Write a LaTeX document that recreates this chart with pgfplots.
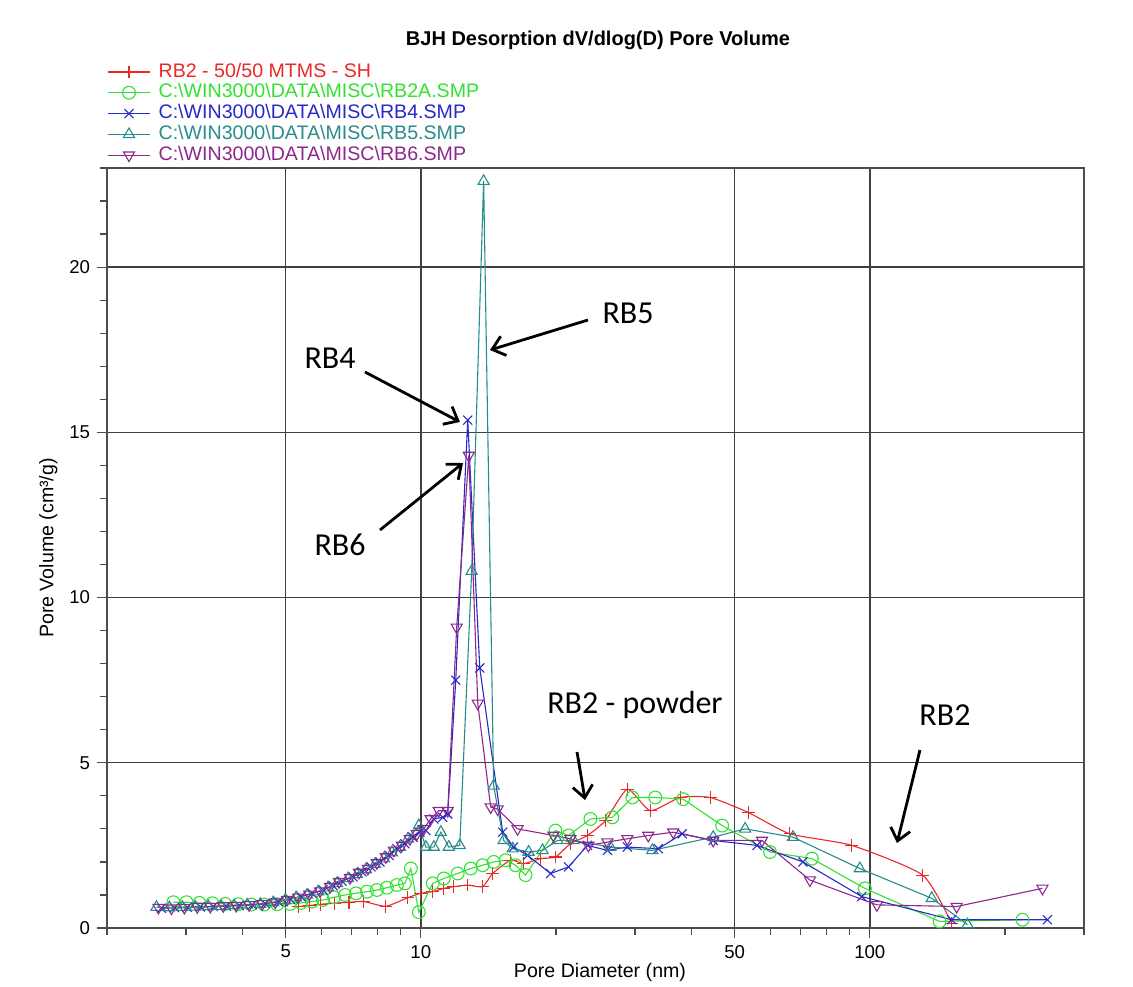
\documentclass[border=0pt]{standalone}
\usepackage{fontspec}
\setmainfont{Liberation Sans}
\newfontfamily\annfont{Carlito}
\usepackage{pgfplots}
\pgfplotsset{compat=1.18}
\usetikzlibrary{arrows.meta}
\definecolor{rbred}{RGB}{235,40,40}
\definecolor{rbgreen}{RGB}{50,225,50}
\definecolor{rbblue}{RGB}{40,40,200}
\definecolor{rbteal}{RGB}{40,140,140}
\definecolor{rbpurple}{RGB}{140,40,140}
\begin{document}
\begin{tikzpicture}
\path[use as bounding box] (-53.5pt,-29pt) rectangle (513pt,464pt);
\begin{axis}[
  scale only axis, width=488.5pt, height=380pt,
  xmode=log, xmin=2, xmax=300, ymin=0, ymax=23,
  xtick={5,10,50,100}, xticklabels={5,10,50,100},
  minor xtick={2,3,4,6,7,8,9,20,30,40,60,70,80,90,200,300},
  ytick={0,5,10,15,20},
  minor ytick={1,2,3,4,6,7,8,9,11,12,13,14,16,17,18,19,21,22,23},
  tick pos=left, tick align=outside,
  major tick length=5pt, minor tick length=3.5pt,
  grid=major, major grid style={black!75, line width=0.7pt},
  axis line style={black!70, line width=0.9pt},
  every tick/.style={black!70, line width=0.6pt},
  tick label style={font=\fontsize{9.3}{10}\selectfont},
  /pgf/number format/assume math mode=true,
  xlabel={Pore Diameter (nm)}, ylabel={Pore Volume (cm³/g)},
  label style={font=\fontsize{9.8}{11}\selectfont},
  xlabel style={at={(axis description cs:0.5046,-0.058)}, anchor=center},
  ylabel style={at={(axis description cs:-0.060,0.5)}, anchor=center},
  every axis title shift=0pt,
  title={BJH Desorption dV/dlog(D) Pore Volume},
  title style={at={(axis description cs:0.5026,1.168)}, anchor=center, font=\bfseries\fontsize{10}{11}\selectfont},
  legend style={at={(axis description cs:0.0,1.139)}, anchor=north west, draw=none, fill=none,
    font=\fontsize{9.8}{10.25}\selectfont, inner sep=0pt, row sep=1.2pt, column sep=4pt,
    nodes={inner sep=0pt, text height=7.2pt, text depth=2pt}, cells={anchor=west}},
  legend image code/.code={\draw[mark repeat=2,mark phase=2] plot coordinates {(0cm,0cm) (0.37cm,0cm) (0.74cm,0cm)};},
  every axis plot/.append style={line width=0.55pt, mark size=3.2pt, mark options={solid, line width=0.55pt}},
]
% RB2 - 50/50 MTMS - SH
\addplot[color=rbred, mark=+, smooth, tension=0.35] coordinates {
(5.33,0.65) (5.64,0.68) (5.99,0.72) (6.41,0.75) (6.92,0.78) (7.47,0.80) (8.36,0.66)
(9.36,0.92) (10.0,1.05) (10.63,1.10) (11.25,1.20) (11.84,1.25) (12.72,1.30) (13.73,1.25)
(14.45,1.65) (15.85,2.05) (16.94,1.95) (18.48,2.10) (19.95,2.15) (21.54,2.55) (23.50,2.80)
(25.77,3.25) (28.84,4.20) (32.45,3.55) (37.83,3.95) (44.11,3.95) (53.58,3.50) (66.4,2.85)
(91.2,2.50) (131.2,1.60) (152.1,0.15)};
\addlegendentry{\textcolor{rbred}{RB2 - 50/50 MTMS - SH}}
% RB2A
\addplot[color=rbgreen, mark=o] coordinates {
(2.811,0.78) (3.005,0.78) (3.211,0.76) (3.432,0.75) (3.668,0.73) (3.920,0.72) (4.190,0.71)
(4.479,0.71) (4.786,0.72) (5.115,0.73) (5.412,0.76) (5.726,0.80) (6.057,0.85) (6.41,0.93)
(6.779,1.00) (7.172,1.05) (7.586,1.10) (7.984,1.15) (8.403,1.22) (8.845,1.30) (9.214,1.35)
(9.502,1.80) (9.898,0.48) (10.63,1.35) (11.25,1.50) (12.08,1.65) (12.92,1.80) (13.73,1.90)
(14.53,2.00) (15.45,2.05) (16.26,1.90) (17.11,1.60) (19.95,2.95) (21.33,2.80) (23.87,3.30)
(26.71,3.35) (29.59,3.95) (33.28,3.95) (38.40,3.90) (46.90,3.10) (59.95,2.30) (74.31,2.10)
(97.48,1.20) (143.0,0.20) (218.8,0.25)};
\addlegendentry{\textcolor{rbgreen}{C:\textbackslash WIN3000\textbackslash DATA\textbackslash MISC\textbackslash RB2A.SMP}}
% RB4
\addplot[color=rbblue, mark=x] coordinates {
(2.644,0.60) (2.826,0.62) (3.020,0.63) (3.228,0.64) (3.450,0.65) (3.687,0.66) (3.941,0.68)
(4.212,0.70) (4.502,0.74) (4.810,0.80) (5.115,0.88) (5.412,0.95) (5.726,1.05) (6.057,1.15)
(6.376,1.28) (6.676,1.42) (7.063,1.55) (7.395,1.70) (7.743,1.85) (8.108,2.00) (8.491,2.20)
(8.845,2.40) (9.214,2.55) (9.602,2.75) (9.949,2.90) (10.26,2.95) (10.69,3.30) (11.19,3.35)
(11.48,3.45) (11.96,7.50) (12.72,15.37) (13.53,7.87) (15.22,2.90) (16.09,2.45) (17.29,2.20)
(19.45,1.65) (21.33,1.85) (23.50,2.50) (26.04,2.35) (28.84,2.45) (33.80,2.40) (38.21,2.85)
(44.79,2.65) (56.09,2.50) (70.96,2.00) (95.99,0.95) (152.1,0.25) (248.7,0.25)};
\addlegendentry{\textcolor{rbblue}{C:\textbackslash WIN3000\textbackslash DATA\textbackslash MISC\textbackslash RB4.SMP}}
% RB5
\addplot[color=rbteal, mark=triangle] coordinates {
(2.577,0.63) (2.754,0.62) (2.944,0.63) (3.146,0.64) (3.363,0.65) (3.594,0.66) (3.840,0.68)
(4.105,0.70) (4.388,0.72) (4.690,0.77) (4.986,0.84) (5.275,0.92) (5.581,1.00) (5.904,1.10)
(6.214,1.22) (6.507,1.35) (6.884,1.50) (7.208,1.62) (7.548,1.77) (7.904,1.93) (8.276,2.10)
(8.623,2.28) (8.981,2.45) (9.36,2.70) (9.898,3.10) (10.26,2.45) (10.69,2.45) (11.08,2.90)
(11.54,2.45) (12.21,2.50) (12.98,10.80) (13.80,22.60) (14.53,4.30) (15.29,2.65) (16.02,2.40)
(17.38,2.30) (18.67,2.35) (20.16,2.65) (21.88,2.65) (26.44,2.45) (32.78,2.35) (44.79,2.75)
(52.75,3.00) (67.44,2.75) (95.01,1.80) (137.4,0.90) (165.1,0.10)};
\addlegendentry{\textcolor{rbteal}{C:\textbackslash WIN3000\textbackslash DATA\textbackslash MISC\textbackslash RB5.SMP}}
% RB6
\addplot[color=rbpurple, mark=triangle, mark options={rotate=180}] coordinates {
(2.604,0.62) (2.783,0.60) (2.974,0.62) (3.178,0.64) (3.397,0.65) (3.631,0.67) (3.880,0.68)
(4.147,0.70) (4.433,0.73) (4.739,0.78) (5.037,0.86) (5.33,0.93) (5.64,1.02) (5.965,1.12)
(6.279,1.25) (6.574,1.40) (6.954,1.52) (7.282,1.68) (7.625,1.80) (7.984,1.97) (8.36,2.15)
(8.710,2.35) (9.074,2.50) (9.453,2.70) (9.797,2.85) (10.15,3.00) (10.52,3.30) (10.96,3.55)
(11.48,3.55) (12.02,9.10) (12.79,14.30) (13.39,6.80) (14.31,3.66) (14.83,3.60) (16.42,3.00)
(19.75,2.80) (21.54,2.70) (23.62,2.50) (26.04,2.60) (28.84,2.70) (32.11,2.80) (36.49,2.90)
(44.79,2.65) (57.54,2.65) (73.56,1.45) (103.7,0.70) (156.1,0.65) (242.4,1.20)};
\addlegendentry{\textcolor{rbpurple}{C:\textbackslash WIN3000\textbackslash DATA\textbackslash MISC\textbackslash RB6.SMP}}
% annotations
\node[font=\annfont\fontsize{16}{18}\selectfont] at (rel axis cs:0.5333,0.8092) {RB5};
\draw[line width=1.4pt, -{Straight Barb[length=6pt,width=10pt]}] (rel axis cs:0.4923,0.800) -- (rel axis cs:0.392,0.7605);
\node[font=\annfont\fontsize{16}{18}\selectfont] at (rel axis cs:0.2283,0.750) {RB4};
\draw[line width=1.4pt, -{Straight Barb[length=6pt,width=10pt]}] (rel axis cs:0.264,0.7316) -- (rel axis cs:0.3613,0.6658);
\node[font=\annfont\fontsize{16}{18}\selectfont] at (rel axis cs:0.2385,0.504) {RB6};
\draw[line width=1.4pt, -{Straight Barb[length=6pt,width=10pt]}] (rel axis cs:0.2794,0.5237) -- (rel axis cs:0.3644,0.6118);
\node[font=\annfont\fontsize{16}{18}\selectfont] at (rel axis cs:0.5404,0.2934) {RB2 - powder};
\draw[line width=1.4pt, -{Straight Barb[length=6pt,width=10pt]}] (rel axis cs:0.4811,0.2316) -- (rel axis cs:0.4893,0.1684);
\node[font=\annfont\fontsize{16}{18}\selectfont] at (rel axis cs:0.8577,0.2803) {RB2};
\draw[line width=1.4pt, -{Straight Barb[length=6pt,width=10pt]}] (rel axis cs:0.8321,0.2342) -- (rel axis cs:0.8086,0.1118);
\end{axis}
\end{tikzpicture}
\end{document}
